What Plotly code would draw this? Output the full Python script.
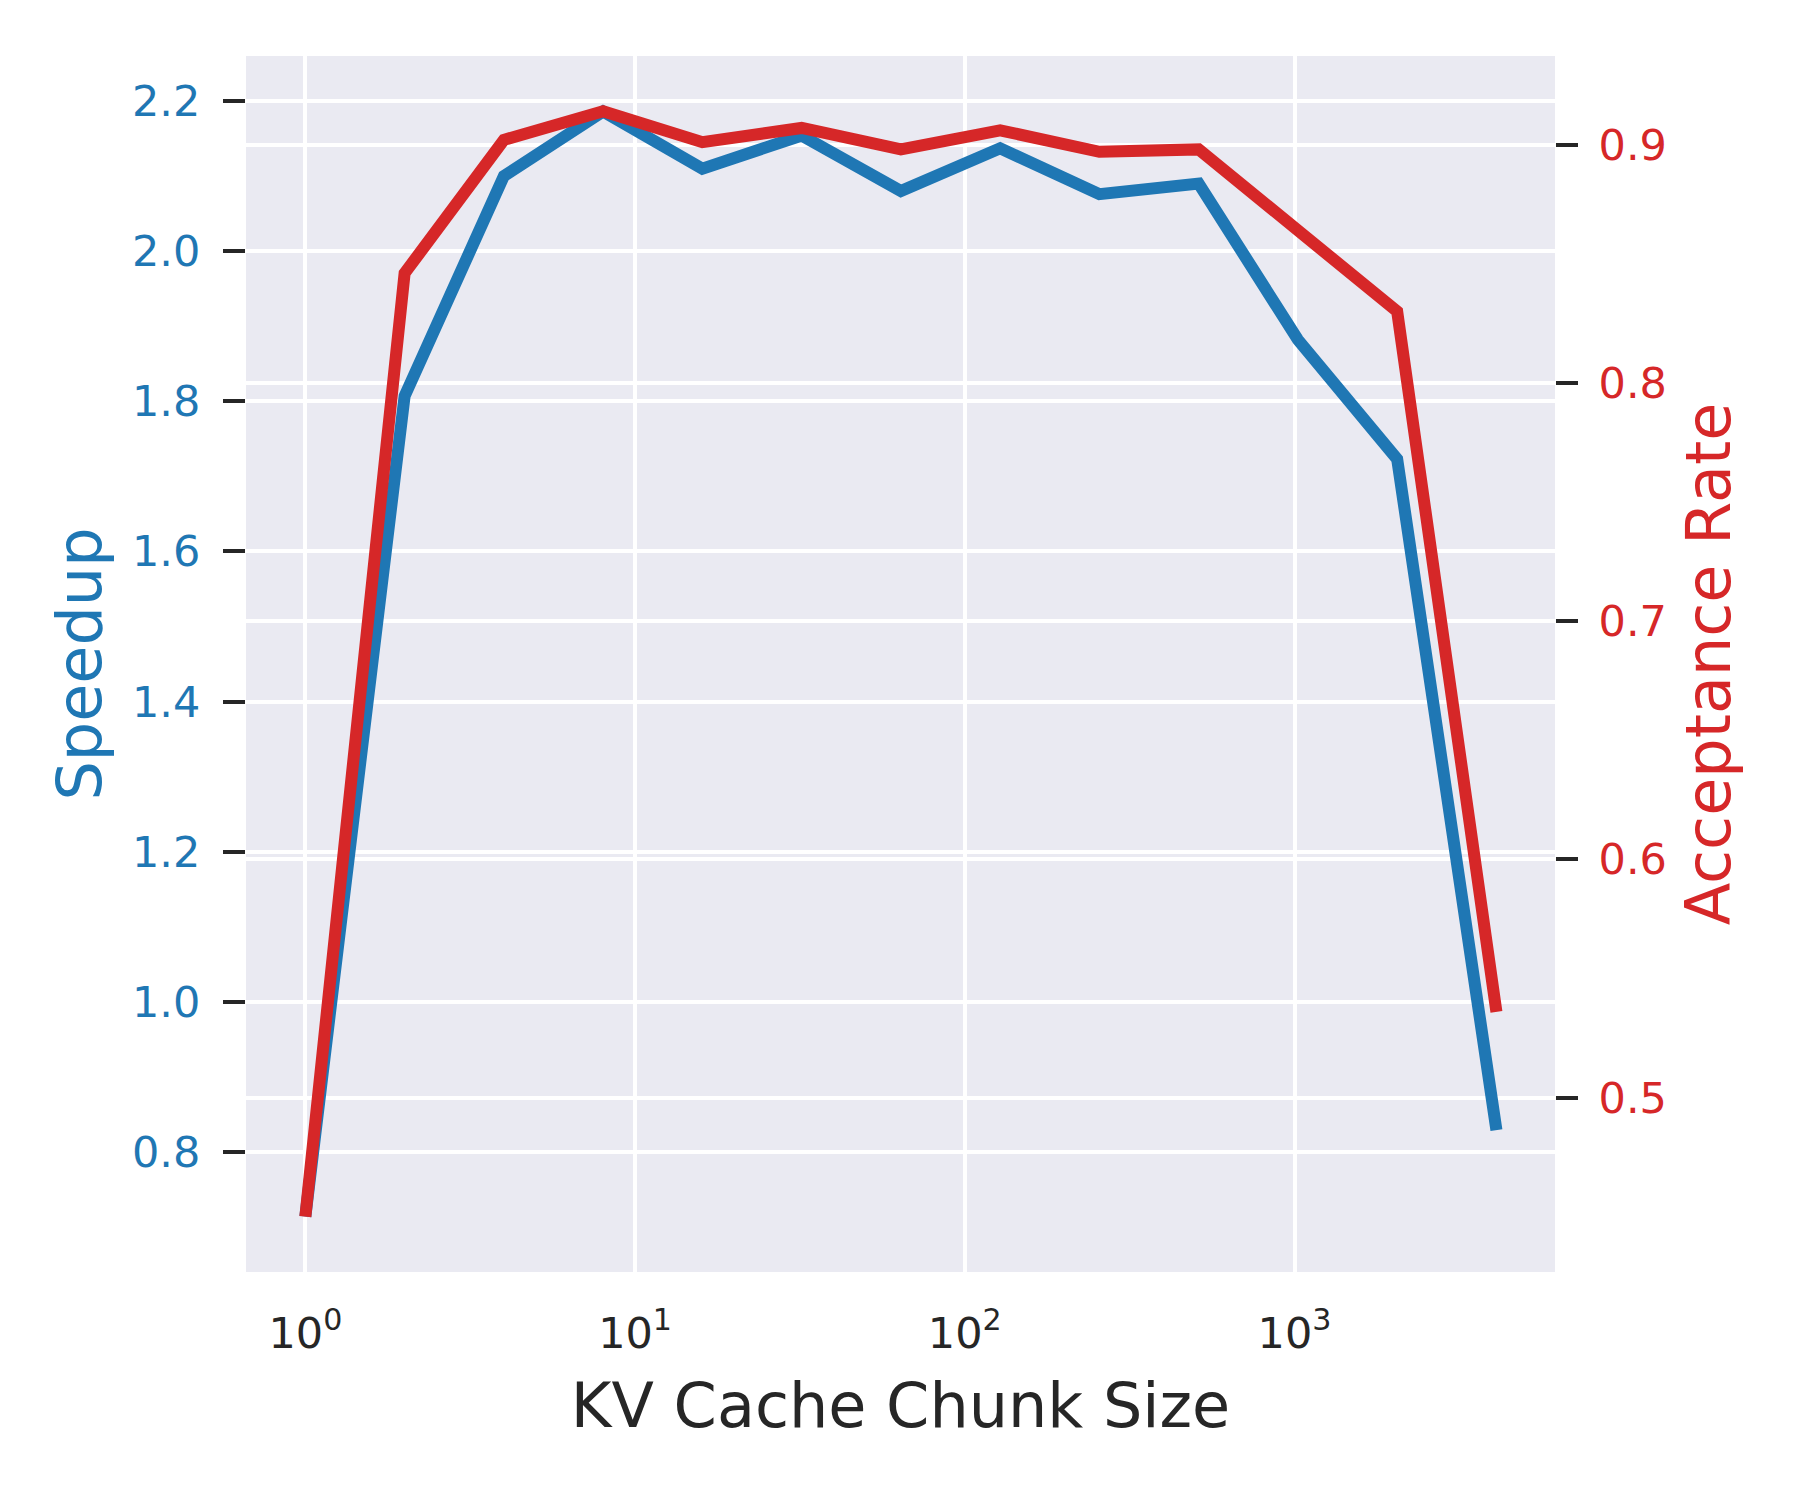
import plotly.graph_objects as go

chunk_size = [1, 2, 4, 8, 16, 32, 64, 128, 256, 512, 1024, 2048, 4096]
speedup = [0.714, 1.807, 2.100, 2.186, 2.110, 2.154, 2.080, 2.137, 2.076, 2.090, 1.882, 1.723, 0.829]
acceptance = [0.450, 0.846, 0.902, 0.914, 0.901, 0.907, 0.898, 0.906, 0.897, 0.898, 0.864, 0.830, 0.536]

x_tickvals = [1, 10, 100, 1000]
x_ticktext = ["10<sup>0</sup>", "10<sup>1</sup>", "10<sup>2</sup>", "10<sup>3</sup>"]

BLUE = "#1f77b4"
RED = "#d62728"
DARK = "#262626"
FONT = "DejaVu Sans"

fig = go.Figure()
fig.add_trace(go.Scatter(
    x=chunk_size, y=speedup, mode="lines", name="Speedup",
    line=dict(color=BLUE, width=12), yaxis="y",
))
fig.add_trace(go.Scatter(
    x=chunk_size, y=acceptance, mode="lines", name="Acceptance Rate",
    line=dict(color=RED, width=12), yaxis="y2",
))

fig.update_layout(
    width=1800,
    height=1500,
    # page body adds ~8px offset, so margins are shifted to compensate
    margin=dict(l=238, r=253, t=48, b=236),
    paper_bgcolor="white",
    plot_bgcolor="#EAEAF2",
    showlegend=False,
    font=dict(family=FONT, color=DARK),
    xaxis=dict(
        type="log",
        range=[-0.18, 3.79],
        tickvals=x_tickvals,
        ticktext=x_ticktext,
        ticks="",
        ticklabelstandoff=32,
        tickfont=dict(size=43, color=DARK),
        showgrid=True, gridcolor="white", gridwidth=3.5,
        zeroline=False, showline=False,
        title=dict(text="KV Cache Chunk Size", font=dict(size=62, color=DARK), standoff=26),
    ),
    yaxis=dict(
        range=[0.640, 2.260],
        tick0=0.8, dtick=0.2, tickformat=".1f",
        ticks="outside", ticklen=22, tickwidth=4, tickcolor=DARK,
        ticklabelstandoff=14,
        tickfont=dict(size=43, color=BLUE),
        showgrid=True, gridcolor="white", gridwidth=3.5,
        zeroline=False, showline=False,
        title=dict(text="Speedup", font=dict(size=62, color=BLUE), standoff=10),
    ),
    yaxis2=dict(
        overlaying="y", side="right",
        range=[0.4268, 0.9372],
        tick0=0.5, dtick=0.1, tickformat=".1f",
        ticks="outside", ticklen=22, tickwidth=4, tickcolor=DARK,
        ticklabelstandoff=12,
        tickfont=dict(size=43, color=RED),
        showgrid=True, gridcolor="white", gridwidth=3.5,
        zeroline=False, showline=False,
        title=dict(text="Acceptance Rate", font=dict(size=62, color=RED), standoff=20),
    ),
)

fig.write_html("out.html")
